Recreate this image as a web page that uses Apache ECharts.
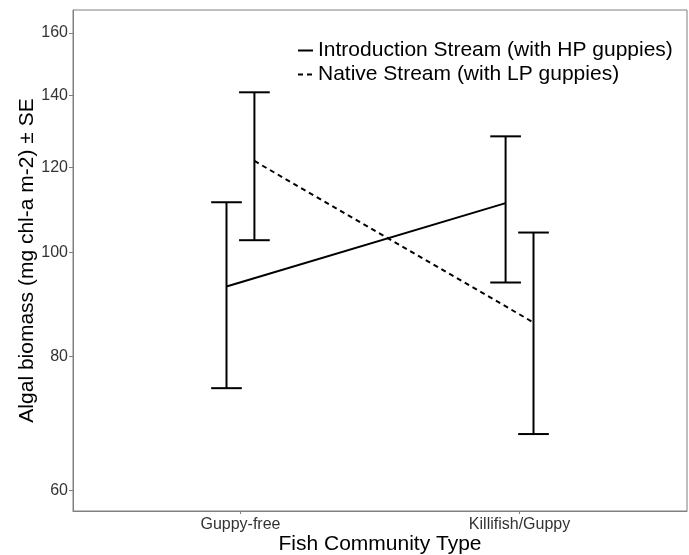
<!DOCTYPE html>
<html><head><meta charset="utf-8">
<script src="https://cdn.jsdelivr.net/npm/echarts@6/dist/echarts.min.js"></script>
<style>html,body{margin:0;padding:0;background:#fff}#c{width:689px;height:555px}</style>
</head><body><div id="c"></div>
<script>
const categories = ['Guppy-free', 'Killifish/Guppy'];
const seriesNames = ['Introduction Stream (with HP guppies)', 'Native Stream (with LP guppies)'];
const introMean = [92.9, 111.1];
const introLow = [74.7, 93.7];
const introHigh = [111.3, 128.2];
const nativeMean = [121.6, 86.0];
const nativeLow = [102.6, 67.7];
const nativeHigh = [140.9, 104.3];
const yTicks = [60, 80, 100, 120, 140, 160];
const yMin = 57.4, yMax = 168.1;

const L = Math.log10;
const dodge = [-0.05, 0.05];
const capHalf = 0.055;
const FONT = '"Liberation Sans", Arial, Helvetica, sans-serif';

function pts(means, k) { return means.map((m, i) => [i + 1 + dodge[k], L(m)]); }
function bars(lows, highs, k) { return lows.map((lo, i) => [i + 1 + dodge[k], L(lo), L(highs[i])]); }

function renderErr(params, api) {
  const x = api.value(0), lo = api.value(1), hi = api.value(2);
  const pLo = api.coord([x, lo]), pHi = api.coord([x, hi]);
  const cL1 = api.coord([x - capHalf, lo]), cR1 = api.coord([x + capHalf, lo]);
  const cL2 = api.coord([x - capHalf, hi]), cR2 = api.coord([x + capHalf, hi]);
  const st = { stroke: '#000', lineWidth: 2 };
  return { type: 'group', children: [
    { type: 'line', shape: { x1: pLo[0], y1: pLo[1], x2: pHi[0], y2: pHi[1] }, style: st },
    { type: 'line', shape: { x1: cL1[0], y1: cL1[1], x2: cR1[0], y2: cR1[1] }, style: st },
    { type: 'line', shape: { x1: cL2[0], y1: cL2[1], x2: cR2[0], y2: cR2[1] }, style: st }
  ]};
}

const chart = echarts.init(document.getElementById('c'), null, { renderer: 'canvas' });
chart.setOption({
  animation: false,
  backgroundColor: '#fff',
  textStyle: { fontFamily: FONT },
  grid: { left: 73, top: 10, right: 2, bottom: 44, containLabel: false, outerBoundsMode: 'none',
          show: true, borderColor: '#808080', borderWidth: 1, backgroundColor: 'transparent' },
  legend: {
    left: 292, top: 35, orient: 'vertical', itemGap: 3, itemWidth: 15, itemHeight: 14,
    textStyle: { fontSize: 21, color: '#000', fontFamily: FONT },
    itemStyle: { opacity: 0 },
    data: seriesNames
  },
  xAxis: {
    type: 'value', min: 0.4, max: 2.6,
    name: 'Fish Community Type', nameLocation: 'middle', nameGap: 23, nameMoveOverlap: false,
    nameTextStyle: { fontSize: 21, color: '#000', fontFamily: FONT },
    axisLine: { show: true, lineStyle: { color: '#808080' } },
    axisTick: { show: true, length: 3, lineStyle: { color: '#808080' }, customValues: [1, 2] },
    axisLabel: { fontSize: 16, color: '#333', margin: 6, customValues: [1, 2], formatter: v => categories[Math.round(v) - 1] || '' },
    splitLine: { show: false }
  },
  yAxis: {
    type: 'value', min: L(yMin), max: L(yMax),
    name: 'Algal biomass (mg chl-a m-2) ± SE', nameLocation: 'middle', nameGap: 35, nameRotate: 90, nameMoveOverlap: false,
    nameTextStyle: { fontSize: 21, color: '#000', fontFamily: FONT },
    axisLine: { show: true, lineStyle: { color: '#808080' } },
    axisTick: { show: true, length: 4, lineStyle: { color: '#808080' }, customValues: yTicks.map(L) },
    axisLabel: { fontSize: 16, color: '#333', margin: 5, customValues: yTicks.map(L), formatter: v => String(Math.round(Math.pow(10, v))) },
    splitLine: { show: false }
  },
  series: [
    { name: seriesNames[0], type: 'line', data: pts(introMean, 0), showSymbol: false, symbol: 'none',
      lineStyle: { color: '#000', width: 2, type: 'solid' }, itemStyle: { color: '#000', opacity: 0 } },
    { name: seriesNames[1], type: 'line', data: pts(nativeMean, 1), showSymbol: false, symbol: 'none',
      lineStyle: { color: '#000', width: 2, type: [5, 4] }, itemStyle: { color: '#000', opacity: 0 } },
    { type: 'custom', renderItem: renderErr, data: bars(introLow, introHigh, 0), encode: { x: 0, y: [1, 2] }, silent: true },
    { type: 'custom', renderItem: renderErr, data: bars(nativeLow, nativeHigh, 1), encode: { x: 0, y: [1, 2] }, silent: true }
  ]
});
</script></body></html>
